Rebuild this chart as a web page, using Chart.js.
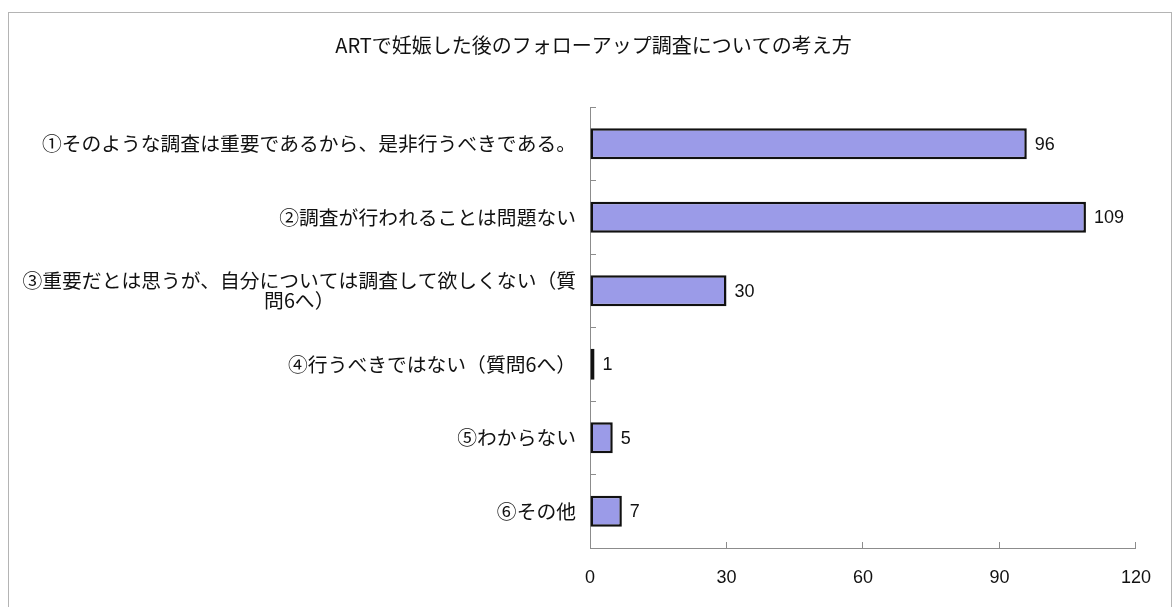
<!DOCTYPE html>
<html lang="ja">
<head>
<meta charset="utf-8">
<title>ARTで妊娠した後のフォローアップ調査についての考え方</title>
<script src="https://cdn.jsdelivr.net/npm/chart.js@4/dist/chart.umd.min.js"></script>
<style>
  html, body { margin: 0; padding: 0; background: #fff; overflow: hidden; }
  #wrap { position: relative; width: 1176px; height: 607px; }
  #frame {
    position: absolute; left: 8px; top: 12px; width: 1164px; height: 640px;
    border: 1px solid #b4b4b4; box-sizing: border-box;
  }
  #chart { position: absolute; left: 0; top: 0; }
</style>
</head>
<body>
<div id="wrap">
  <div id="frame"></div>
  <canvas id="chart" width="1176" height="607"></canvas>
</div>
<script>
// 回答項目（長いものは2行に折り返す）
const categories = [
  '①そのような調査は重要であるから、是非行うべきである。',
  '②調査が行われることは問題ない',
  ['③重要だとは思うが、自分については調査して欲しくない（質', '問6へ）'],
  '④行うべきではない（質問6へ）',
  '⑤わからない',
  '⑥その他'
];
// 回答数
const counts = [96, 109, 30, 1, 5, 7];
// 横軸の目盛
const xTicks = [0, 30, 60, 90, 120];

const JP_FONT = '"Noto Sans CJK JP", "Noto Sans", sans-serif';
const NUM_FONT = '"Liberation Sans", Arial, sans-serif';

// 縦軸の項目名：複数行は行ごとに中央揃え、ブロック全体は右寄せ
const categoryLabels = {
  id: 'categoryLabels',
  afterDraw(chart) {
    const { ctx } = chart;
    const yScale = chart.scales.y;
    const right = chart.chartArea.left - 14;
    const lineH = 20;
    ctx.save();
    ctx.font = '19.8px ' + JP_FONT;
    ctx.fillStyle = '#111';
    ctx.textBaseline = 'middle';
    ctx.textAlign = 'center';
    categories.forEach((label, i) => {
      const lines = Array.isArray(label) ? label : [label];
      const widest = Math.max(...lines.map(l => ctx.measureText(l).width));
      const cx = right - widest / 2;
      const cy = yScale.getPixelForValue(i);
      const y0 = cy - (lines.length - 1) * lineH / 2;
      lines.forEach((line, k) => ctx.fillText(line, cx, y0 + k * lineH));
    });
    ctx.restore();
  }
};

// 棒の右端に回答数を表示
const valueLabels = {
  id: 'valueLabels',
  afterDatasetsDraw(chart) {
    const { ctx } = chart;
    const meta = chart.getDatasetMeta(0);
    ctx.save();
    ctx.font = '18px ' + NUM_FONT;
    ctx.fillStyle = '#111';
    ctx.textBaseline = 'middle';
    ctx.textAlign = 'left';
    meta.data.forEach((bar, i) => {
      ctx.fillText(String(counts[i]), bar.x + 8, bar.y + 1);
    });
    ctx.restore();
  }
};

new Chart(document.getElementById('chart'), {
  type: 'bar',
  data: {
    labels: categories,
    datasets: [{
      data: counts,
      backgroundColor: '#9b9be8',
      borderColor: '#111',
      borderWidth: 2.5,
      borderSkipped: false,
      categoryPercentage: 0.42,
      barPercentage: 1
    }]
  },
  options: {
    indexAxis: 'y',
    responsive: false,
    animation: false,
    // 左右の余白を揃えてタイトルを全体の中央に置く
    layout: { padding: { left: 45, right: 34, top: 0, bottom: 18 } },
    plugins: {
      legend: { display: false },
      tooltip: { enabled: false },
      title: {
        display: true,
        text: 'ARTで妊娠した後のフォローアップ調査についての考え方',
        color: '#111',
        font: { family: JP_FONT, size: 20, weight: 'normal' },
        padding: { top: 33, bottom: 50 }
      }
    },
    scales: {
      x: {
        min: xTicks[0],
        max: xTicks[xTicks.length - 1],
        afterBuildTicks(scale) {
          scale.ticks = xTicks.map(v => ({ value: v }));
        },
        grid: {
          drawOnChartArea: false,
          drawTicks: true,
          tickLength: -6,
          tickColor: '#8c8c8c',
          lineWidth: 1
        },
        border: { color: '#8c8c8c', width: 1 },
        ticks: {
          color: '#111',
          padding: 25,
          font: { family: NUM_FONT, size: 18 }
        },
        afterFit(scale) { scale.height = 41; }
      },
      y: {
        grid: {
          offset: true,
          drawOnChartArea: false,
          drawTicks: true,
          tickLength: -6,
          tickColor: '#8c8c8c'
        },
        border: { color: '#8c8c8c', width: 1 },
        ticks: { display: false },
        afterFit(scale) { scale.width = 545; }
      }
    }
  },
  plugins: [categoryLabels, valueLabels]
});
</script>
</body>
</html>
